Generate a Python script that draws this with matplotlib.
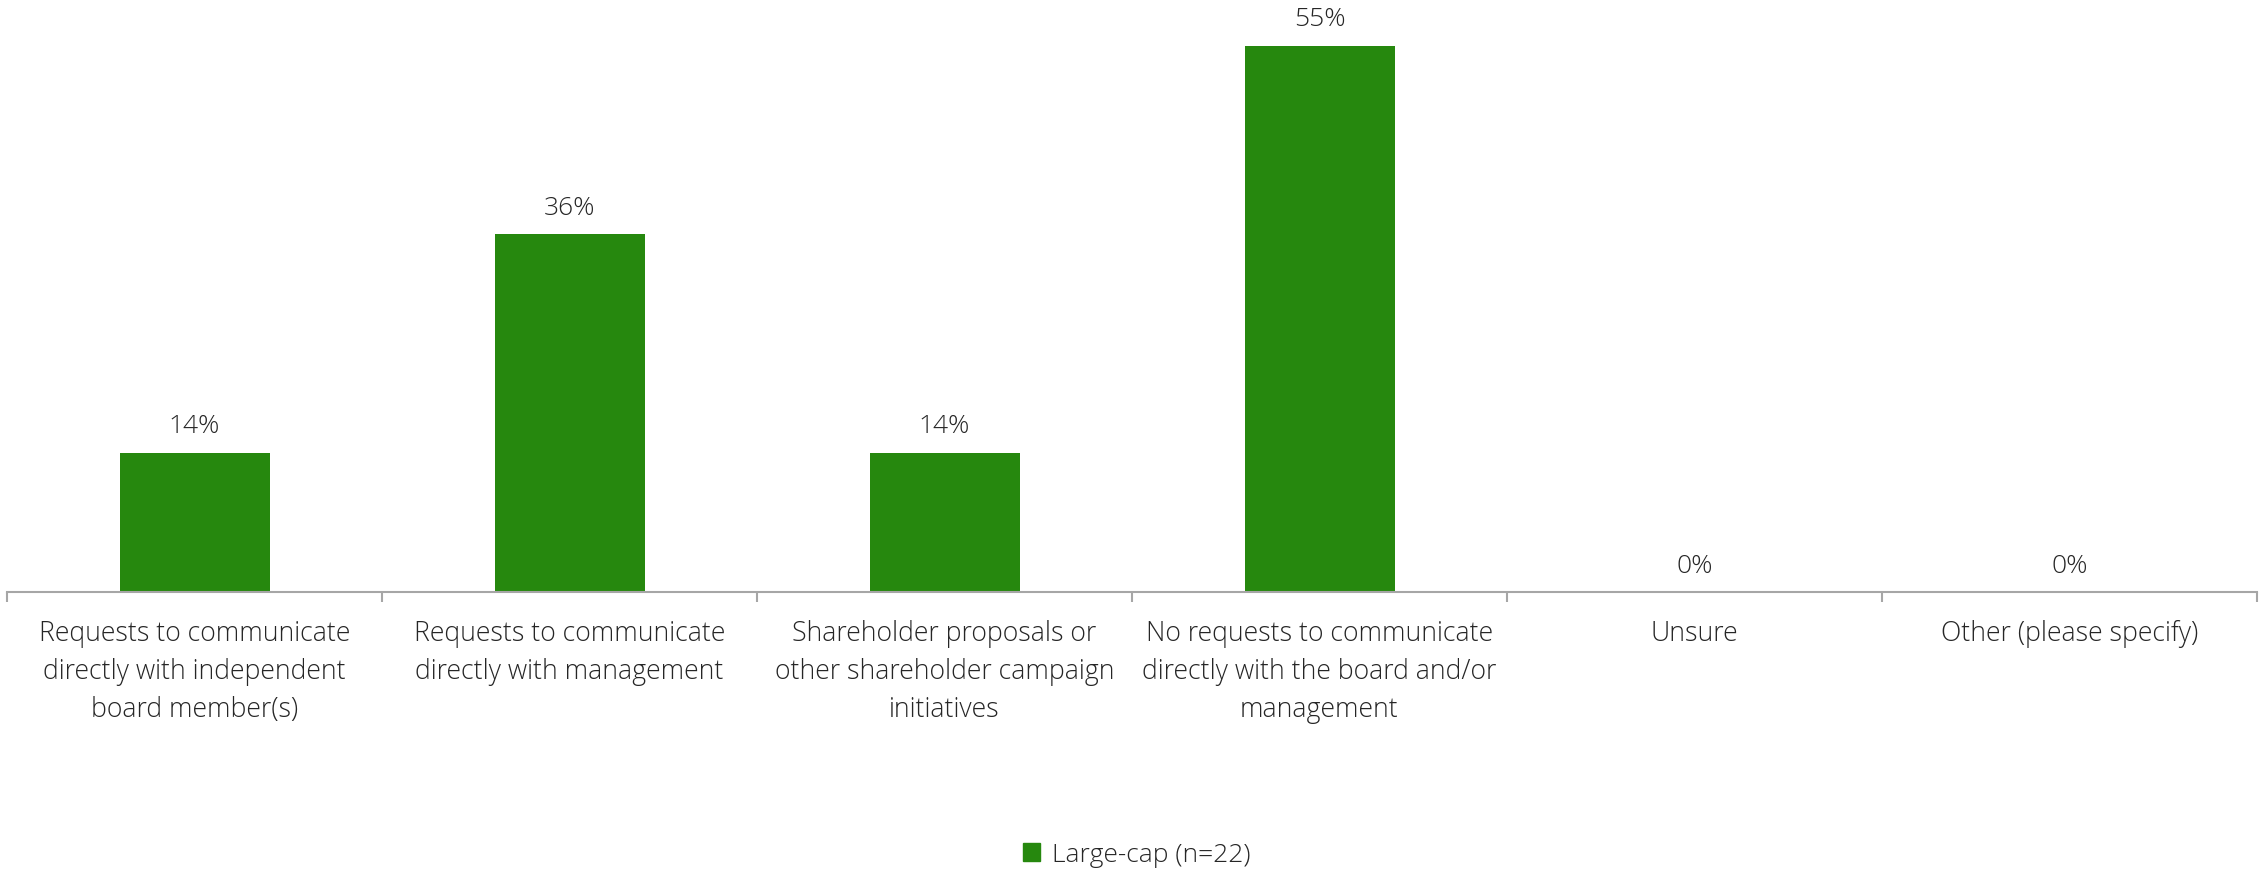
import matplotlib
matplotlib.use("Agg")
import matplotlib.pyplot as plt
from matplotlib.patches import Patch
from matplotlib.ticker import FixedLocator

plt.rcParams['font.family'] = ['Open Sans', 'DejaVu Sans']

categories = [
    "Requests to communicate\ndirectly with independent\nboard member(s)",
    "Requests to communicate\ndirectly with management",
    "Shareholder proposals or\nother shareholder campaign\ninitiatives",
    "No requests to communicate\ndirectly with the board and/or\nmanagement",
    "Unsure",
    "Other (please specify)",
]
values = [14, 36, 14, 55, 0, 0]
series_name = "Large-cap (n=22)"

bar_color = "#26880E"
text_color = "#262626"
axis_color = "#A6A6A6"

W, H = 2260, 869
fig = plt.figure(figsize=(W / 100, H / 100), dpi=100)
ax = fig.add_axes([7 / W, (H - 592) / H, 2250 / W, 592 / H])

x = list(range(len(categories)))
ax.bar(x, values, width=0.4, color=bar_color, zorder=2)

for xi, v in zip(x, values):
    ax.annotate(f"{v}%", (xi, v), xytext=(0, 14), textcoords="offset points",
                ha="center", va="baseline", fontsize=19, color=text_color,
                fontweight="light")

ax.set_xlim(-0.5, len(categories) - 0.5)
ax.set_ylim(0, 59.6)

for s in ["top", "right", "left"]:
    ax.spines[s].set_visible(False)
ax.spines["bottom"].set_color(axis_color)
ax.spines["bottom"].set_linewidth(1.5)
ax.set_yticks([])

ax.set_xticks(x)
ax.set_xticklabels(categories, fontsize=19.2, color=text_color,
                   fontweight="light", linespacing=1.49)
ax.tick_params(axis="x", which="major", length=0, pad=20)
ax.xaxis.set_minor_locator(FixedLocator([i - 0.5 for i in range(len(categories) + 1)]))
ax.tick_params(axis="x", which="minor", length=7, width=1.5, color=axis_color)

handle = Patch(facecolor=bar_color, edgecolor=bar_color)
fig.legend([handle], [series_name], loc="center", bbox_to_anchor=(0.503, 1 - 855 / H),
           frameon=False, handlelength=0.65, handleheight=0.65,
           handletextpad=0.45, labelcolor=text_color,
           prop={"size": 19, "weight": "light"})

fig.savefig("out.png", dpi=100, facecolor="white")
